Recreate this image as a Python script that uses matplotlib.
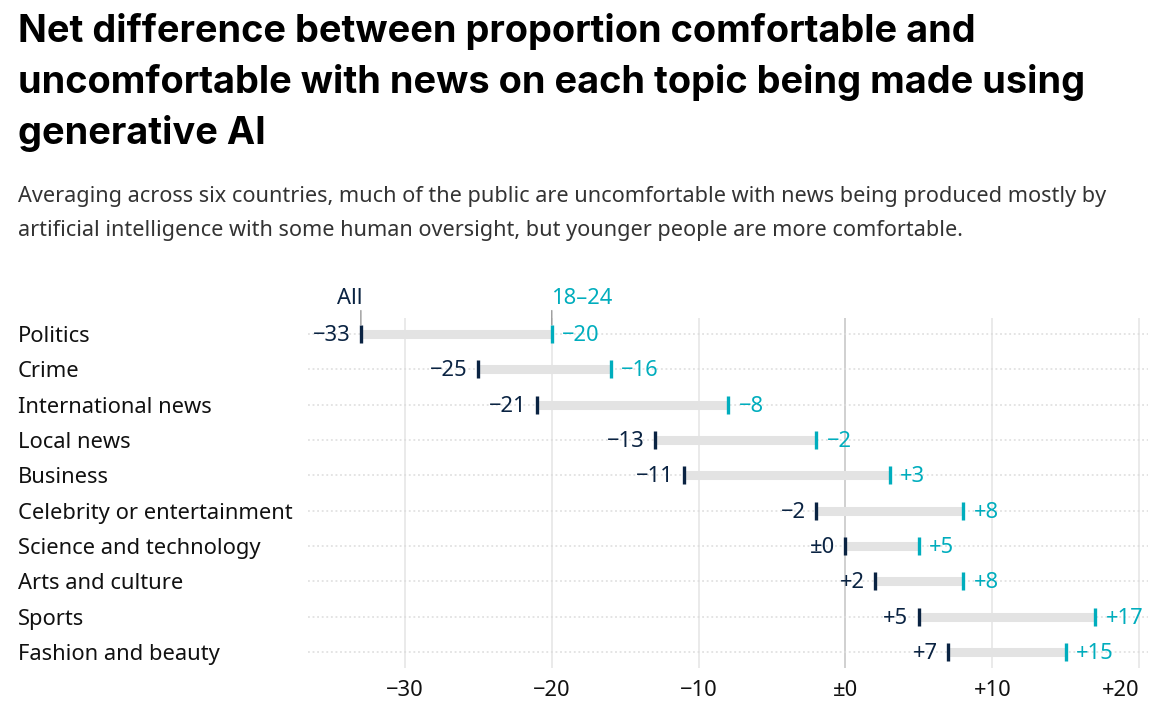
import matplotlib
matplotlib.use("Agg")
import matplotlib.pyplot as plt
from matplotlib.transforms import blended_transform_factory

plt.rcParams['font.family'] = ['Noto Sans', 'DejaVu Sans']

# Daten
topics = ["Politics", "Crime", "International news", "Local news", "Business",
          "Celebrity or entertainment", "Science and technology", "Arts and culture",
          "Sports", "Fashion and beauty"]
all_ages = [-33, -25, -21, -13, -11, -2, 0, 2, 5, 7]
young = [-20, -16, -8, -2, 3, 8, 5, 8, 17, 15]
x_ticks = [-30, -20, -10, 0, 10, 20]

NAVY = "#0a2342"
TEAL = "#00adbd"
FS = 15.8


def fmt(v):
    if v > 0:
        return "+%d" % v
    if v < 0:
        return "\u2212%d" % abs(v)
    return "\u00b10"


fig = plt.figure(figsize=(11.74, 7.18), dpi=100)
ax = fig.add_axes([308 / 1174, 1 - 668 / 718, 840 / 1174, 350 / 718])

ax.set_xlim(-36.6, 20.6)
ax.set_ylim(len(topics) - 0.55, -0.45)

# Gitterlinien
for t in x_ticks:
    ax.axvline(t, color="#c8c8c8" if t == 0 else "#e6e6e6", lw=1.2, zorder=0)
for i in range(len(topics)):
    ax.axhline(i, color="#dcdcdc", lw=1.1, ls=(0, (1.2, 1.8)), zorder=0)

ys = list(range(len(topics)))
# Balken zwischen beiden Werten
ax.hlines(ys, all_ages, young, color="#e3e3e3", lw=6.5, zorder=1)
ax.plot(all_ages, ys, ls="none", marker="|", ms=13, mew=2.4, color=NAVY, zorder=3)
ax.plot(young, ys, ls="none", marker="|", ms=13, mew=2.4, color=TEAL, zorder=3)

for i in ys:
    ax.annotate(fmt(all_ages[i]), (all_ages[i], i), xytext=(-7.5, -1), textcoords="offset points",
                ha="right", va="center", fontsize=FS, color=NAVY)
    ax.annotate(fmt(young[i]), (young[i], i), xytext=(7.5, -1), textcoords="offset points",
                ha="left", va="center", fontsize=FS, color=TEAL)

# Kategorien links
tr = blended_transform_factory(fig.transFigure, ax.transData)
for i, name in enumerate(topics):
    ax.annotate(name, (18 / 1174, i), xycoords=tr, xytext=(0, -1.8), textcoords="offset points",
                ha="left", va="center", fontsize=FS, color="#111111", annotation_clip=False)

# Kopfzeilen "All" und "18–24"
for v in (all_ages[0], young[0]):
    ax.annotate("", (v, -0.26), xytext=(v, -0.66),
                arrowprops=dict(arrowstyle="-", color="#999999", lw=1, shrinkA=0, shrinkB=0),
                annotation_clip=False)
ax.annotate("All", (all_ages[0], 0), xytext=(1, 18), textcoords="offset points",
            ha="right", va="bottom", fontsize=FS, color=NAVY, annotation_clip=False)
ax.annotate("18\u201324", (young[0], 0), xytext=(0, 18), textcoords="offset points",
            ha="left", va="bottom", fontsize=FS, color=TEAL, annotation_clip=False)

ax.set_xticks(x_ticks)
ax.set_xticklabels([fmt(t) for t in x_ticks], fontsize=FS, color="#111111")
ax.get_xticklabels()[-1].set_horizontalalignment("right")
ax.tick_params(axis="x", length=0, pad=9)
ax.set_yticks([])
for s in ax.spines.values():
    s.set_visible(False)

fig.text(18 / 1174, 1 - 13 / 718,
         "Net difference between proportion comfortable and\n"
         "uncomfortable with news on each topic being made using\n"
         "generative AI",
         ha="left", va="top", fontsize=27.3, fontweight="bold", linespacing=1.48,
         family=["Inter", "DejaVu Sans"], color="black")
fig.text(18 / 1174, 1 - 186 / 718,
         "Averaging across six countries, much of the public are uncomfortable with news being produced mostly by\n"
         "artificial intelligence with some human oversight, but younger people are more comfortable.",
         ha="left", va="top", fontsize=15.6, linespacing=1.8, color="#333333")

fig.savefig("out.png", dpi=100)
